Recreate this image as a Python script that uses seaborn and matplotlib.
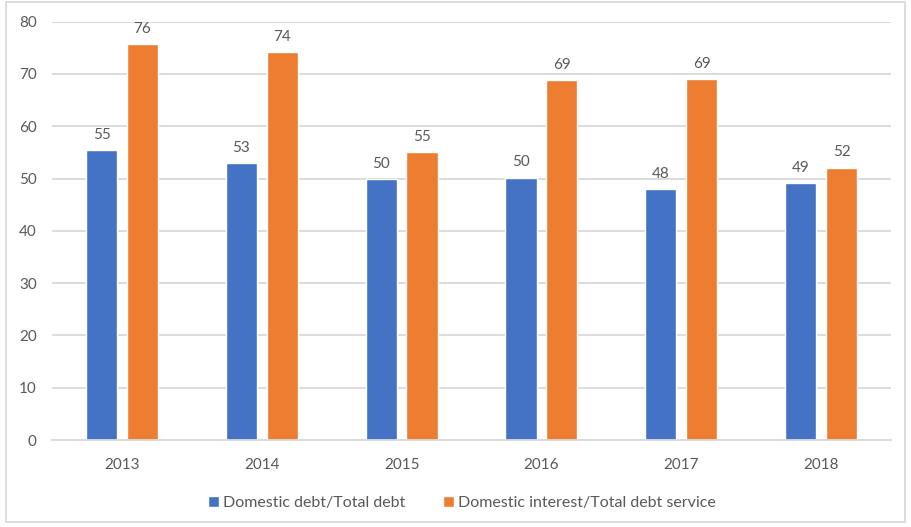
import matplotlib
matplotlib.use("Agg")
import matplotlib.pyplot as plt
from matplotlib.patches import Rectangle
import seaborn as sns
import pandas as pd

years = ["2013", "2014", "2015", "2016", "2017", "2018"]
debt_share = [55.45, 52.9, 49.9, 50.2, 48.0, 49.1]
interest_share = [75.7, 74.2, 55.1, 68.8, 69.0, 52.1]
series_names = ["Domestic debt/Total debt", "Domestic interest/Total debt service"]
y_ticks = [0, 10, 20, 30, 40, 50, 60, 70, 80]

df = pd.DataFrame({
    "year": years * 2,
    "value": debt_share + interest_share,
    "series": [series_names[0]] * len(years) + [series_names[1]] * len(years),
})

sns.set_theme(style="white")
plt.rcParams["font.family"] = ["Lato", "DejaVu Sans"]

text_color = "#595959"
grid_color = "#D9D9D9"
fs = 11

fig = plt.figure(figsize=(9.12, 5.27), dpi=100)
ax = fig.add_axes([52 / 912, 1 - 440 / 527, (891 - 52) / 912, (440 - 21.7) / 527])

sns.barplot(
    data=df, x="year", y="value", hue="series",
    palette=["#4472C4", "#ED7D31"], width=0.584, gap=0.233,
    saturation=1, ax=ax, legend=True,
)

# value labels above each bar
for container in ax.containers:
    ax.bar_label(container, fmt="%.0f", padding=6, fontsize=fs, color=text_color)

ax.set_xlim(-0.5, len(years) - 0.5)
ax.set_ylim(0, 80)
ax.set_yticks(y_ticks)
ax.set_xlabel("")
ax.set_ylabel("")
ax.yaxis.grid(True, color=grid_color, linewidth=1.3)
ax.set_axisbelow(True)
for side in ["left", "right", "top"]:
    ax.spines[side].set_visible(False)
ax.spines["bottom"].set_color(grid_color)
ax.spines["bottom"].set_linewidth(1.3)
ax.tick_params(axis="y", length=0, pad=11, labelsize=fs, labelcolor=text_color)
ax.tick_params(axis="x", length=0, pad=13, labelsize=fs, labelcolor=text_color)

handles, labels = ax.get_legend_handles_labels()
ax.get_legend().remove()
fig.legend(
    handles, labels, loc="center", bbox_to_anchor=(462 / 912, 1 - 503 / 527),
    ncol=2, frameon=False, fontsize=11.5, labelcolor=text_color,
    handlelength=0.65, handleheight=0.65, handletextpad=0.25, columnspacing=2.4,
)

# light outer frame around the chart area
fig.patches.append(Rectangle((6 / 912, 1 - 522 / 527), (905 - 6) / 912, (522 - 2) / 527,
                             transform=fig.transFigure, fill=False,
                             edgecolor=grid_color, linewidth=1.3))

fig.savefig("out.png", dpi=100)
